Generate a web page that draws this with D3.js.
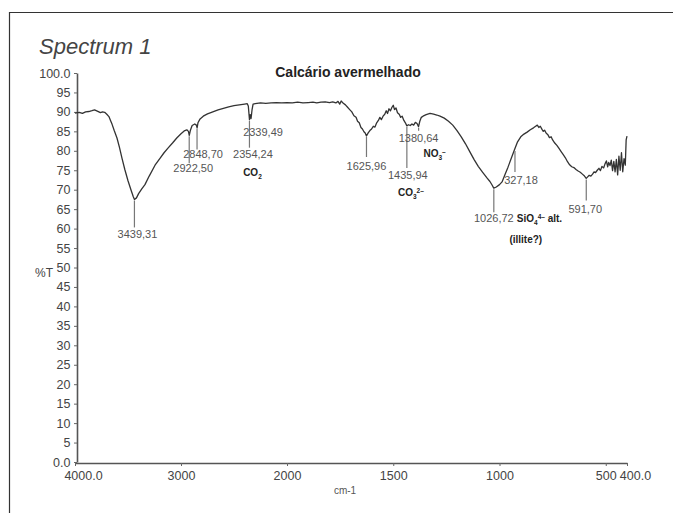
<!DOCTYPE html>
<html><head><meta charset="utf-8">
<script src="https://cdn.jsdelivr.net/npm/d3@7"></script>
<style>
html,body{margin:0;padding:0;background:#fff;}
svg{display:block;font-family:"Liberation Sans",Arial,Helvetica,sans-serif;}
</style></head>
<body><svg id="c" width="673" height="513"></svg>
<script>
// ---- data ----
const wavenumbers = [4000,3960,3930,3900,3870,3840,3815,3790,3760,3740,3720,3700,3680,3665,3650,3630,3604,3580,3557,3530,3500,3470,3450,3439,3420,3400,3370,3340,3300,3245,3200,3160,3123,3080,3040,3000,2970,2945,2930,2922,2912,2895,2870,2855,2848,2840,2820,2790,2750,2700,2650,2600,2550,2500,2450,2400,2375,2365,2354,2347,2339,2330,2320,2300,2250,2200,2150,2100,2050,2000,1975,1950,1925,1900,1878,1860,1840,1820,1800,1785,1770,1760,1752,1745,1735,1725,1715,1705,1695,1685,1675,1668,1660,1652,1645,1638,1632,1626,1618,1610,1602,1594,1586,1578,1570,1563,1556,1548,1540,1533,1527,1520,1513,1506,1500,1494,1487,1480,1472,1465,1458,1450,1443,1436,1428,1420,1412,1404,1396,1388,1381,1375,1368,1360,1345,1327,1310,1295,1280,1260,1240,1220,1200,1180,1160,1140,1120,1100,1080,1060,1045,1035,1027,1015,1000,988,975,960,945,930,915,900,885,870,855,840,830,822,815,808,800,794,788,780,772,765,757,750,740,730,720,710,700,690,680,670,660,650,640,630,620,610,600,592,585,578,570,562,555,548,540,532,525,518,510,503,497,491,486,480,474,468,462,456,450,444,438,432,426,420,414,408,404,400];
const transmittance = [89.7,89.9,89.6,90.0,90.1,90.3,90.5,90.2,89.8,90.0,89.9,89.4,88.8,87.8,86.8,85.2,83.3,80.8,78.1,75.2,72.3,69.8,68.2,67.5,67.9,69.0,70.2,71.3,73.5,76.3,78.0,79.5,80.7,82.0,83.3,84.4,85.1,85.4,85.0,84.0,85.2,86.5,86.9,86.6,85.9,87.2,88.2,88.9,89.5,90.0,90.5,90.9,91.3,91.6,91.8,92.0,92.1,91.5,88.0,89.3,88.3,90.5,92.0,92.1,92.3,92.2,92.3,92.4,92.3,92.4,92.3,92.5,92.3,92.4,92.5,92.3,92.5,92.6,92.4,92.6,92.3,92.7,92.0,92.8,92.2,91.8,91.2,90.6,90.0,89.0,88.6,87.6,87.2,86.0,85.6,84.9,84.6,83.8,84.6,85.2,85.6,86.3,86.1,87.2,87.8,88.6,88.0,88.9,89.4,90.3,89.6,90.8,90.3,91.2,91.7,90.6,91.0,89.8,89.4,88.6,88.9,87.8,87.2,86.4,86.7,86.5,86.9,86.6,87.3,87.0,86.2,87.6,88.6,88.9,89.3,89.6,89.4,89.2,88.9,88.4,87.6,86.6,85.2,83.6,81.8,79.8,77.8,76.0,74.5,73.1,72.1,71.2,70.4,70.7,71.3,72.0,73.8,75.8,78.0,80.2,82.3,83.6,84.3,84.8,85.4,85.9,86.3,86.6,86.0,86.3,85.5,85.0,85.3,84.5,84.1,83.4,83.6,82.8,82.0,81.4,80.6,79.8,79.0,78.2,77.2,76.4,75.9,75.7,75.2,74.8,74.5,74.0,73.5,72.9,73.3,73.7,73.5,74.0,74.6,74.4,75.0,75.5,74.9,76.0,75.6,76.7,77.4,75.9,77.0,76.2,77.6,74.9,77.3,74.6,77.8,73.8,78.6,75.0,79.5,74.6,78.0,76.3,82.8,83.8];

const xTickValues = [4000,3000,2000,1500,1000,500,400];
const xTickLabels = ["4000.0","3000","2000","1500","1000","500","400.0"];
const yTickValues = [0,5,10,15,20,25,30,35,40,45,50,55,60,65,70,75,80,85,90,95,100];
const yTickLabels = ["0.0","5","10","15","20","25","30","35","40","45","50","55","60","65","70","75","80","85","90","95","100.0"];

const peakWavenumbers = [3439.31,2922.50,2848.70,2354.24,2339.49,1625.96,1435.94,1380.64,1026.72,927.18,591.70];
const peakTransmittance = [67.5,84.0,86.0,88.0,88.3,83.8,86.4,86.2,70.4,80.2,72.9];
const peakLabels = ["3439,31","2922,50","2848,70","2354,24","2339,49","1625,96","1435,94","1380,64","1026,72","327,18","591,70"];

const title = "Calcário avermelhado";
const panelTitle = "Spectrum 1";
const yTitle = "%T";
const xTitle = "cm-1";

// ---- layout (pixels) ----
// [line length, label dx, label dy]
const peakLayout = [[28,3,35],[28,4,33],[22,6,26.5],[28,3.5,34],[0,12,13.5],[21,0,30],[42,1,49],[4,0,11],[24,0,30],[22,6,30],[22,-1,31]];

const svg = d3.select("#c");

// frame
svg.append("path").attr("d","M9.5,513 L9.5,12.5 L673,12.5")
  .attr("fill","none").attr("stroke","#333").attr("stroke-width",1.2);

const x = d3.scaleLinear().domain([4000,2000,400]).range([75,287,627]);
const y = d3.scaleLinear().domain([0,100]).range([462,73]);

// axes
const xAxis = svg.append("g").attr("transform","translate(0,463)")
  .call(d3.axisBottom(x).tickValues(xTickValues).tickSize(3).tickSizeOuter(0)
    .tickFormat((d,i)=>xTickLabels[i]));
const yAxis = svg.append("g").attr("transform","translate(77,0)")
  .call(d3.axisLeft(y).tickValues(yTickValues).tickSize(3).tickSizeOuter(0)
    .tickFormat((d,i)=>yTickLabels[i]));
[xAxis,yAxis].forEach(g=>{
  g.select(".domain").attr("stroke","#555").attr("stroke-width",1.6);
  g.selectAll(".tick line").attr("stroke","#666").attr("stroke-width",1);
  g.selectAll("text").attr("fill","#444").attr("font-size",12.5)
    .attr("font-family","'Liberation Sans',Arial,sans-serif");
});
xAxis.selectAll(".tick text").attr("dy","0.9em")
  .attr("dx",(d)=> (d===4000||d===400) ? 8 : 0);
yAxis.selectAll(".tick text").attr("x",-6.5);

// titles
svg.append("text").attr("x",39).attr("y",54).text(panelTitle)
  .attr("font-size",22).attr("font-style","italic").attr("fill","#444");
svg.append("text").attr("x",348).attr("y",77).attr("text-anchor","middle").text(title)
  .attr("font-size",14).attr("font-weight","bold").attr("fill","#222");
svg.append("text").attr("x",44).attr("y",277).attr("text-anchor","middle").text(yTitle)
  .attr("font-size",12).attr("fill","#444");
svg.append("text").attr("x",345).attr("y",494).attr("text-anchor","middle").text(xTitle)
  .attr("font-size",10).attr("fill","#555");

// spectrum line
const pts = wavenumbers.map((w,i)=>[w,transmittance[i]]);
svg.append("path").datum(pts)
  .attr("d", d3.line().x(d=>x(d[0])).y(d=>y(d[1])))
  .attr("fill","none").attr("stroke","#333").attr("stroke-width",1.3)
  .attr("stroke-linejoin","round");

// peak markers
const pk = svg.append("g");
peakWavenumbers.forEach((w,i)=>{
  const px = x(w), py = y(peakTransmittance[i]);
  const [len,dx,dy] = peakLayout[i];
  if(len>0) pk.append("line").attr("x1",px).attr("x2",px).attr("y1",py+1).attr("y2",py+len)
    .attr("stroke","#777").attr("stroke-width",1.2);
  pk.append("text").attr("x",px+dx).attr("y",py+dy).attr("dy","0.35em")
    .attr("text-anchor","middle").attr("font-size",11).attr("fill","#555").text(peakLabels[i]);
});

// chemical labels
function chem(xp, yp, parts, anchor){
  const t = svg.append("text").attr("x",xp).attr("y",yp).attr("text-anchor",anchor||"middle")
    .attr("font-size",10).attr("font-weight","bold").attr("fill","#222");
  parts.forEach(p=>{
    const s = t.append("tspan").text(p[0]);
    if(p[1]==="sub") s.attr("font-size",6.5).attr("dy",3);
    else if(p[1]==="supAfterSub") s.attr("font-size",6.5).attr("dy",-6);
    else if(p[1]==="back") s.attr("dy",3);
  });
  return t;
}
const xc = x(2354.24), yc = y(88);
chem(xc+3, yc+56, [["CO"],["2","sub"]]);
const xn = x(1380.64), yn = y(86.2);
chem(xn+16, yn+30, [["NO"],["3","sub"],["–","supAfterSub"]]);
const xo = x(1435.94), yo = y(86.4);
chem(xo+4, yo+70, [["CO"],["3","sub"],["2–","supAfterSub"]]);
const xs = x(1026.72), ys = y(70.4);
chem(xs+23, ys+34, [["SiO"],["4","sub"],["4–","supAfterSub"],[" alt.","back"]],"start");
chem(xs+32, ys+55, [["(illite?)"]]);
</script></body></html>
